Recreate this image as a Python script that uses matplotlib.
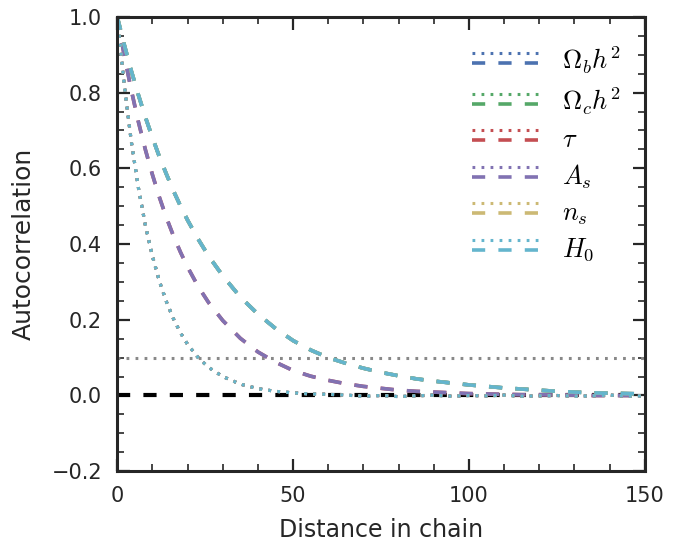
import numpy as np
import matplotlib
matplotlib.use("Agg")
import matplotlib.pyplot as plt
from matplotlib.lines import Line2D
from matplotlib.legend_handler import HandlerBase
from matplotlib.ticker import MultipleLocator

# lag values (distance in chain)
lags = [0, 2, 4, 6, 8, 10, 12, 14, 16, 18, 20, 23, 26, 30, 35, 40, 45, 50, 55, 60,
        65, 70, 75, 80, 85, 90, 95, 100, 105, 110, 115, 120, 125, 130, 135, 140, 145, 150]

# dotted curves (all parameters nearly identical)
acf_dotted = [1.0, 0.819, 0.670, 0.549, 0.449, 0.368, 0.301, 0.247, 0.202, 0.165, 0.135,
              0.100, 0.074, 0.050, 0.030, 0.018, 0.011, 0.007, 0.004, 0.003,
              0.001, -0.002, 0.000, -0.003, -0.001, 0.001, -0.002, 0.000, -0.001, 0.001,
              -0.002, -0.001, 0.000, -0.002, -0.001, 0.001, -0.002, -0.001]

# dashed curves: tau and A_s
acf_dashed_mid = [1.0, 0.897, 0.806, 0.723, 0.649, 0.583, 0.523, 0.469, 0.421, 0.378, 0.339,
                  0.288, 0.245, 0.198, 0.151, 0.115, 0.088, 0.066, 0.051, 0.040,
                  0.031, 0.024, 0.019, 0.014, 0.011, 0.009, 0.007, 0.005, 0.004, 0.003,
                  0.002, 0.002, 0.001, 0.001, 0.000, 0.000, 0.000, 0.000]

# dashed curves: Omega_b h^2, Omega_c h^2, n_s, H_0
acf_dashed_slow = [1.0, 0.926, 0.857, 0.794, 0.735, 0.681, 0.630, 0.584, 0.540, 0.500, 0.463,
                   0.413, 0.368, 0.316, 0.260, 0.215, 0.177, 0.145, 0.120, 0.100,
                   0.085, 0.072, 0.061, 0.052, 0.044, 0.038, 0.033, 0.028, 0.024, 0.020,
                   0.017, 0.014, 0.011, 0.009, 0.007, 0.006, 0.005, 0.004]

params = [r'$\Omega_b h^2$', r'$\Omega_c h^2$', r'$\tau$', r'$A_s$', r'$n_s$', r'$H_0$']
colors = ['#4C72B0', '#55A868', '#C44E52', '#8172B2', '#CCB974', '#64B5CD']
dashed_curves = [acf_dashed_slow, acf_dashed_slow, acf_dashed_mid,
                 acf_dashed_mid, acf_dashed_slow, acf_dashed_slow]

plt.rcParams['mathtext.fontset'] = 'cm'
plt.rcParams['lines.scale_dashes'] = False
plt.rcParams['font.family'] = 'DejaVu Sans'

DOT = (0, (2.0, 4.5))
DASH = (0, (9.5, 9.5))


class HandlerStack(HandlerBase):
    # dotted line on top, dashed line below
    def create_artists(self, legend, orig_handle, xdescent, ydescent,
                       width, height, fontsize, trans):
        out = []
        for h, yf in zip(orig_handle, (0.95, 0.35)):
            y = yf * height - ydescent
            ln = Line2D([-xdescent, width - xdescent], [y, y])
            ln.update_from(h)
            ln.set_transform(trans)
            out.append(ln)
        return out


fig = plt.figure(figsize=(6.94, 5.46), dpi=100)
ax = fig.add_axes([0.169, 0.137, 0.76, 0.832])

ax.axhline(0.1, color='#888888', lw=2.2, linestyle=DOT)
ax.axhline(0.0, color='black', lw=3.0, linestyle=DASH)

handles = []
for name, c, dc in zip(params, colors, dashed_curves):
    l1, = ax.plot(lags, acf_dotted, color=c, lw=2.2, linestyle=DOT)
    l2, = ax.plot(lags, dc, color=c, lw=2.6, linestyle=DASH)
    handles.append((l1, l2))

ax.set_xlim(0, 150)
ax.set_ylim(-0.2, 1.0)
ax.xaxis.set_major_locator(MultipleLocator(50))
ax.xaxis.set_minor_locator(MultipleLocator(10))
ax.yaxis.set_major_locator(MultipleLocator(0.2))
ax.yaxis.set_minor_locator(MultipleLocator(0.05))
ax.tick_params(which='both', direction='in', top=True, right=True,
               color='#262626', labelcolor='#262626', labelsize=15)
ax.tick_params(axis='x', pad=11)
ax.tick_params(axis='y', pad=11)
ax.tick_params(which='major', length=9, width=1.6)
ax.tick_params(which='minor', length=5, width=1.2)
for s in ax.spines.values():
    s.set_linewidth(2.2)
    s.set_color('#262626')

ax.set_xlabel('Distance in chain', fontsize=17, color='#262626', labelpad=8)
ax.set_ylabel('Autocorrelation', fontsize=18, color='#262626', labelpad=11)

ax.legend(handles, params, handler_map={tuple: HandlerStack()},
          loc='upper right', frameon=False, fontsize=19,
          handlelength=2.6, handleheight=0.6, handletextpad=0.8,
          labelspacing=0.36, borderaxespad=0.5, bbox_to_anchor=(1.0, 0.99))

fig.savefig('out.png', dpi=100)
